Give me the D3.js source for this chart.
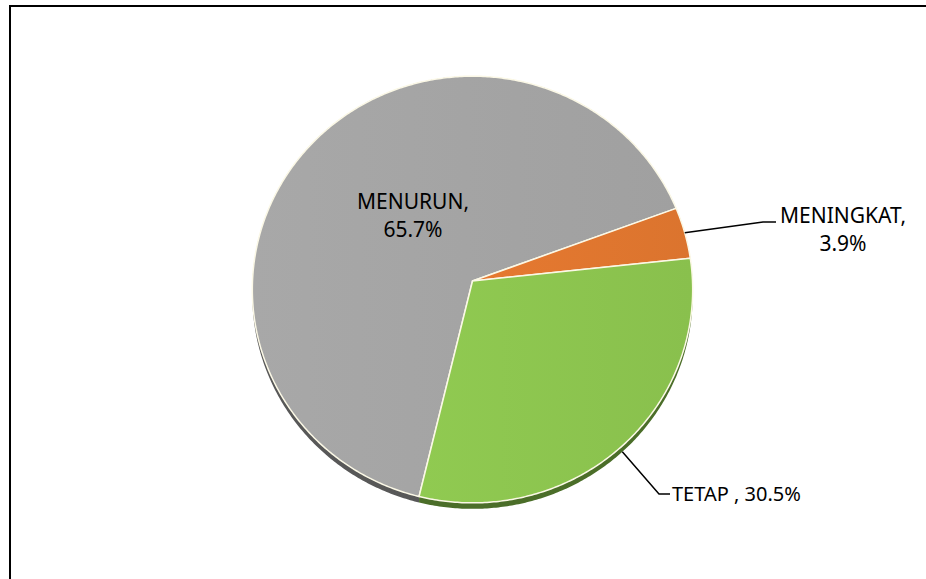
<!DOCTYPE html>
<html>
<head>
<meta charset="utf-8">
<script src="https://cdn.jsdelivr.net/npm/d3@7"></script>
<style>
  body { margin: 0; background: #fff; overflow: hidden; }
  svg { display: block; }
  text { font-family: "Noto Sans", sans-serif; fill: #000; }
</style>
</head>
<body>
<div class="chart"></div>
<script>
// data
var categories = ["MENURUN", "MENINGKAT", "TETAP "];
var values = [65.7, 3.9, 30.5];
var topColors = ["#a3a3a3", "#e0762f", "#8cc44f"];
var sideColors = ["#585858", "#8a4317", "#4b6e29"];

// dimensions
var width = 926, height = 579;
var cx = 472.5, cy = 281;   // apex of slices
var rx = 220, ry = 213;     // pie radius (horizontal / depth)
var persp = 0.04;           // perspective of the tilted pie
var depth = 6;              // thickness of the pie
var startAngle = 193.5 * Math.PI / 180;

var svg = d3.select(".chart")
  .append("svg")
  .attr("width", width)
  .attr("height", height);

var line = d3.line();

// frame: only top and left edges are inside the picture
svg.append("path")
  .attr("d", line([[10, height + 5], [10, 6], [width + 5, 6]]))
  .attr("fill", "none")
  .attr("stroke", "#000")
  .attr("stroke-width", 2);

// gradients
var defs = svg.append("defs");
topColors.forEach(function(c, i) {
  var g = defs.append("linearGradient")
    .attr("id", "grad" + i)
    .attr("x1", "0%").attr("x2", "100%").attr("y1", "0%").attr("y2", "0%");
  g.append("stop").attr("offset", "0%").attr("stop-color", d3.color(c).brighter(0.08));
  g.append("stop").attr("offset", "100%").attr("stop-color", d3.color(c).darker(0.06));
});

// pie layout
var pie = d3.pie()
  .sort(null)
  .value(function(d) { return d; })
  .startAngle(startAngle)
  .endAngle(startAngle + 2 * Math.PI);
var arcs = pie(values);

// project a point of the unit disc onto the tilted pie
function project(a, dy) {
  var u = Math.sin(a), v = -Math.cos(a);
  var s = 1 / (1 - persp * v);
  return [cx + rx * u * s, cy + ry * v * s + (dy || 0)];
}

function arcPoints(a0, a1, dy) {
  var n = Math.max(2, Math.ceil((a1 - a0) / 0.01));
  return d3.range(n + 1).map(function(i) {
    return project(a0 + (a1 - a0) * i / n, dy);
  });
}

// side walls
svg.append("g").selectAll("path")
  .data(arcs)
  .enter()
  .append("path")
  .attr("d", function(d) {
    var pts = arcPoints(d.startAngle, d.endAngle, 0)
      .concat(arcPoints(d.startAngle, d.endAngle, depth).reverse());
    return line(pts) + "Z";
  })
  .attr("fill", function(d, i) { return sideColors[i]; });

// top faces
svg.append("g").selectAll("path")
  .data(arcs)
  .enter()
  .append("path")
  .attr("d", function(d) {
    return line([[cx, cy]].concat(arcPoints(d.startAngle, d.endAngle, 0))) + "Z";
  })
  .attr("fill", function(d, i) { return "url(#grad" + i + ")"; })
  .attr("stroke", "#fbf8e6")
  .attr("stroke-width", 1.5)
  .attr("stroke-linejoin", "round");

// labels
var fmt = function(v) { return v.toFixed(1) + "%"; };

// MENURUN, inside
svg.append("text")
  .attr("x", 413).attr("y", 209)
  .attr("text-anchor", "middle")
  .style("font-size", "21px")
  .selectAll("tspan")
  .data([categories[0] + ",", fmt(values[0])])
  .enter()
  .append("tspan")
  .attr("x", 413)
  .attr("dy", function(d, i) { return i ? 28 : 0; })
  .text(function(d) { return d; });

// MENINGKAT, with leader
var midA = (arcs[1].startAngle + arcs[1].endAngle) / 2;
var p0 = project(midA, 0);
svg.append("path")
  .attr("d", line([p0, [763, 222], [776, 222]]))
  .attr("fill", "none")
  .attr("stroke", "#000")
  .attr("stroke-width", 1.5);
svg.append("text")
  .attr("x", 843).attr("y", 223)
  .attr("text-anchor", "middle")
  .style("font-size", "21px")
  .selectAll("tspan")
  .data([categories[1] + ",", fmt(values[1])])
  .enter()
  .append("tspan")
  .attr("x", 843)
  .attr("dy", function(d, i) { return i ? 28 : 0; })
  .text(function(d) { return d; });

// TETAP, with leader
var midB = (arcs[2].startAngle + arcs[2].endAngle) / 2;
var p1 = project(midB, depth);
svg.append("path")
  .attr("d", line([p1, [659, 494], [670, 494]]))
  .attr("fill", "none")
  .attr("stroke", "#000")
  .attr("stroke-width", 1.5);
svg.append("text")
  .attr("x", 672).attr("y", 501)
  .style("font-size", "20px")
  .text(categories[2] + ", " + fmt(values[2]));
</script>
</body>
</html>
